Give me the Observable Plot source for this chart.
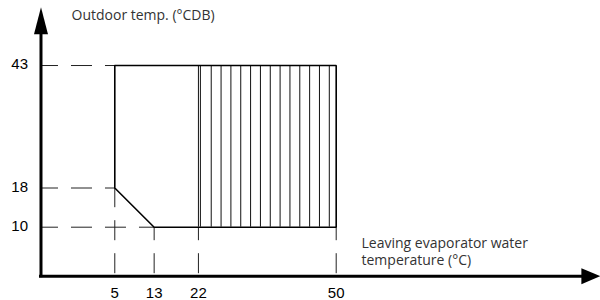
<!DOCTYPE html>
<html><head><meta charset="utf-8">
<script src="https://cdn.jsdelivr.net/npm/d3@7"></script>
<script src="https://cdn.jsdelivr.net/npm/@observablehq/plot@0.6"></script>
<style>
  html,body{margin:0;padding:0;background:#fff}
  svg{display:block}
</style>
</head><body><div id="chart"></div>
<script>
// ---- data ----
const xTicks = [5, 13, 22, 50];
const xGuideTops = [18, 10, 10, 10];
const yTicks = [43, 18, 10];
const yGuideEnds = [5, 5, 13];
const boundaryX = [5, 50, 50, 13, 5, 5];
const boundaryY = [43, 43, 10, 10, 18, 43];
const hatchX = [22, 22.4, 24.6, 26.6, 28.6, 30.6, 32.6, 34.6, 36.6, 38.6, 40.6, 42.6, 44.6, 46.6, 48.6];
const hatchBottom = 10;
const hatchTop = 43;
const yTitle = "Outdoor temp. (°CDB)";
const xTitle = "Leaving evaporator water\ntemperature (°C)";

// axis extents (data units)
const axisX0 = -10, axisXEnd = 103.7;
const axisY0 = 0, axisYEnd = 54.9;

const tickFont = "'Liberation Sans', Arial, sans-serif";
const textFont = "'Open Sans', 'Noto Sans', sans-serif";

const arrowUp = {draw(ctx) { ctx.moveTo(0, 0); ctx.lineTo(-7, 27); ctx.lineTo(7, 27); ctx.closePath(); }};
const arrowRight = {draw(ctx) { ctx.moveTo(0, 0); ctx.lineTo(-19, -8); ctx.lineTo(-19, 8); ctx.closePath(); }};

const boundary = boundaryX.map((x, i) => ({x, y: boundaryY[i]}));

const chart = Plot.plot({
  width: 600,
  height: 300,
  marginTop: 0, marginRight: 0, marginBottom: 0, marginLeft: 0,
  x: {domain: [-18.23, 103.72], axis: null},
  y: {domain: [-4.96, 56.27], axis: null},
  marks: [
    // dashed guides
    Plot.link(yTicks, {x1: axisX0, x2: (d, i) => yGuideEnds[i], y1: d => d, y2: d => d,
      stroke: "#222", strokeWidth: 1, strokeDasharray: "21,13", strokeDashoffset: 4}),
    Plot.link(xTicks, {x1: d => d, x2: d => d, y1: axisY0, y2: (d, i) => xGuideTops[i],
      stroke: "#222", strokeWidth: 1, strokeDasharray: "20,13", strokeDashoffset: -3}),
    // hatching
    Plot.ruleX(hatchX, {y1: hatchBottom, y2: hatchTop, stroke: "#111", strokeWidth: 1}),
    // boundary
    Plot.line(boundary, {x: "x", y: "y", stroke: "#000", strokeWidth: 1.6, strokeLinejoin: "miter"}),
    // axes
    Plot.ruleY([axisY0], {x1: axisX0, x2: 100.5, stroke: "#000", strokeWidth: 3, strokeLinecap: "square"}),
    Plot.ruleX([axisX0], {y1: axisY0, y2: 50, stroke: "#000", strokeWidth: 3, strokeLinecap: "square"}),
    Plot.dot([0], {x: axisX0, y: axisYEnd, symbol: arrowUp, fill: "#000", stroke: "none", r: 5}),
    Plot.dot([0], {x: axisXEnd, y: axisY0, symbol: arrowRight, fill: "#000", stroke: "none", r: 5}),
    // tick labels
    Plot.text(yTicks, {x: axisX0, y: d => d, text: d => String(d), textAnchor: "end", dx: -13, dy: -1,
      fontSize: 15, fontFamily: tickFont, fill: "#000"}),
    Plot.text(xTicks, {x: d => d, y: axisY0, text: d => String(d), dy: 17,
      fontSize: 15, fontFamily: tickFont, fill: "#000"}),
    // titles
    Plot.text([yTitle], {frameAnchor: "top-left", dx: 71, dy: 10, lineAnchor: "top", textAnchor: "start",
      text: d => d, fontSize: 14, fontFamily: textFont, fill: "#333"}),
    Plot.text([xTitle], {frameAnchor: "top-left", dx: 361, dy: 236, lineAnchor: "top", textAnchor: "start",
      text: d => d, fontSize: 14, lineHeight: 1.2, fontFamily: textFont, fill: "#333"})
  ]
});
document.getElementById("chart").appendChild(chart);
</script>
</body></html>
